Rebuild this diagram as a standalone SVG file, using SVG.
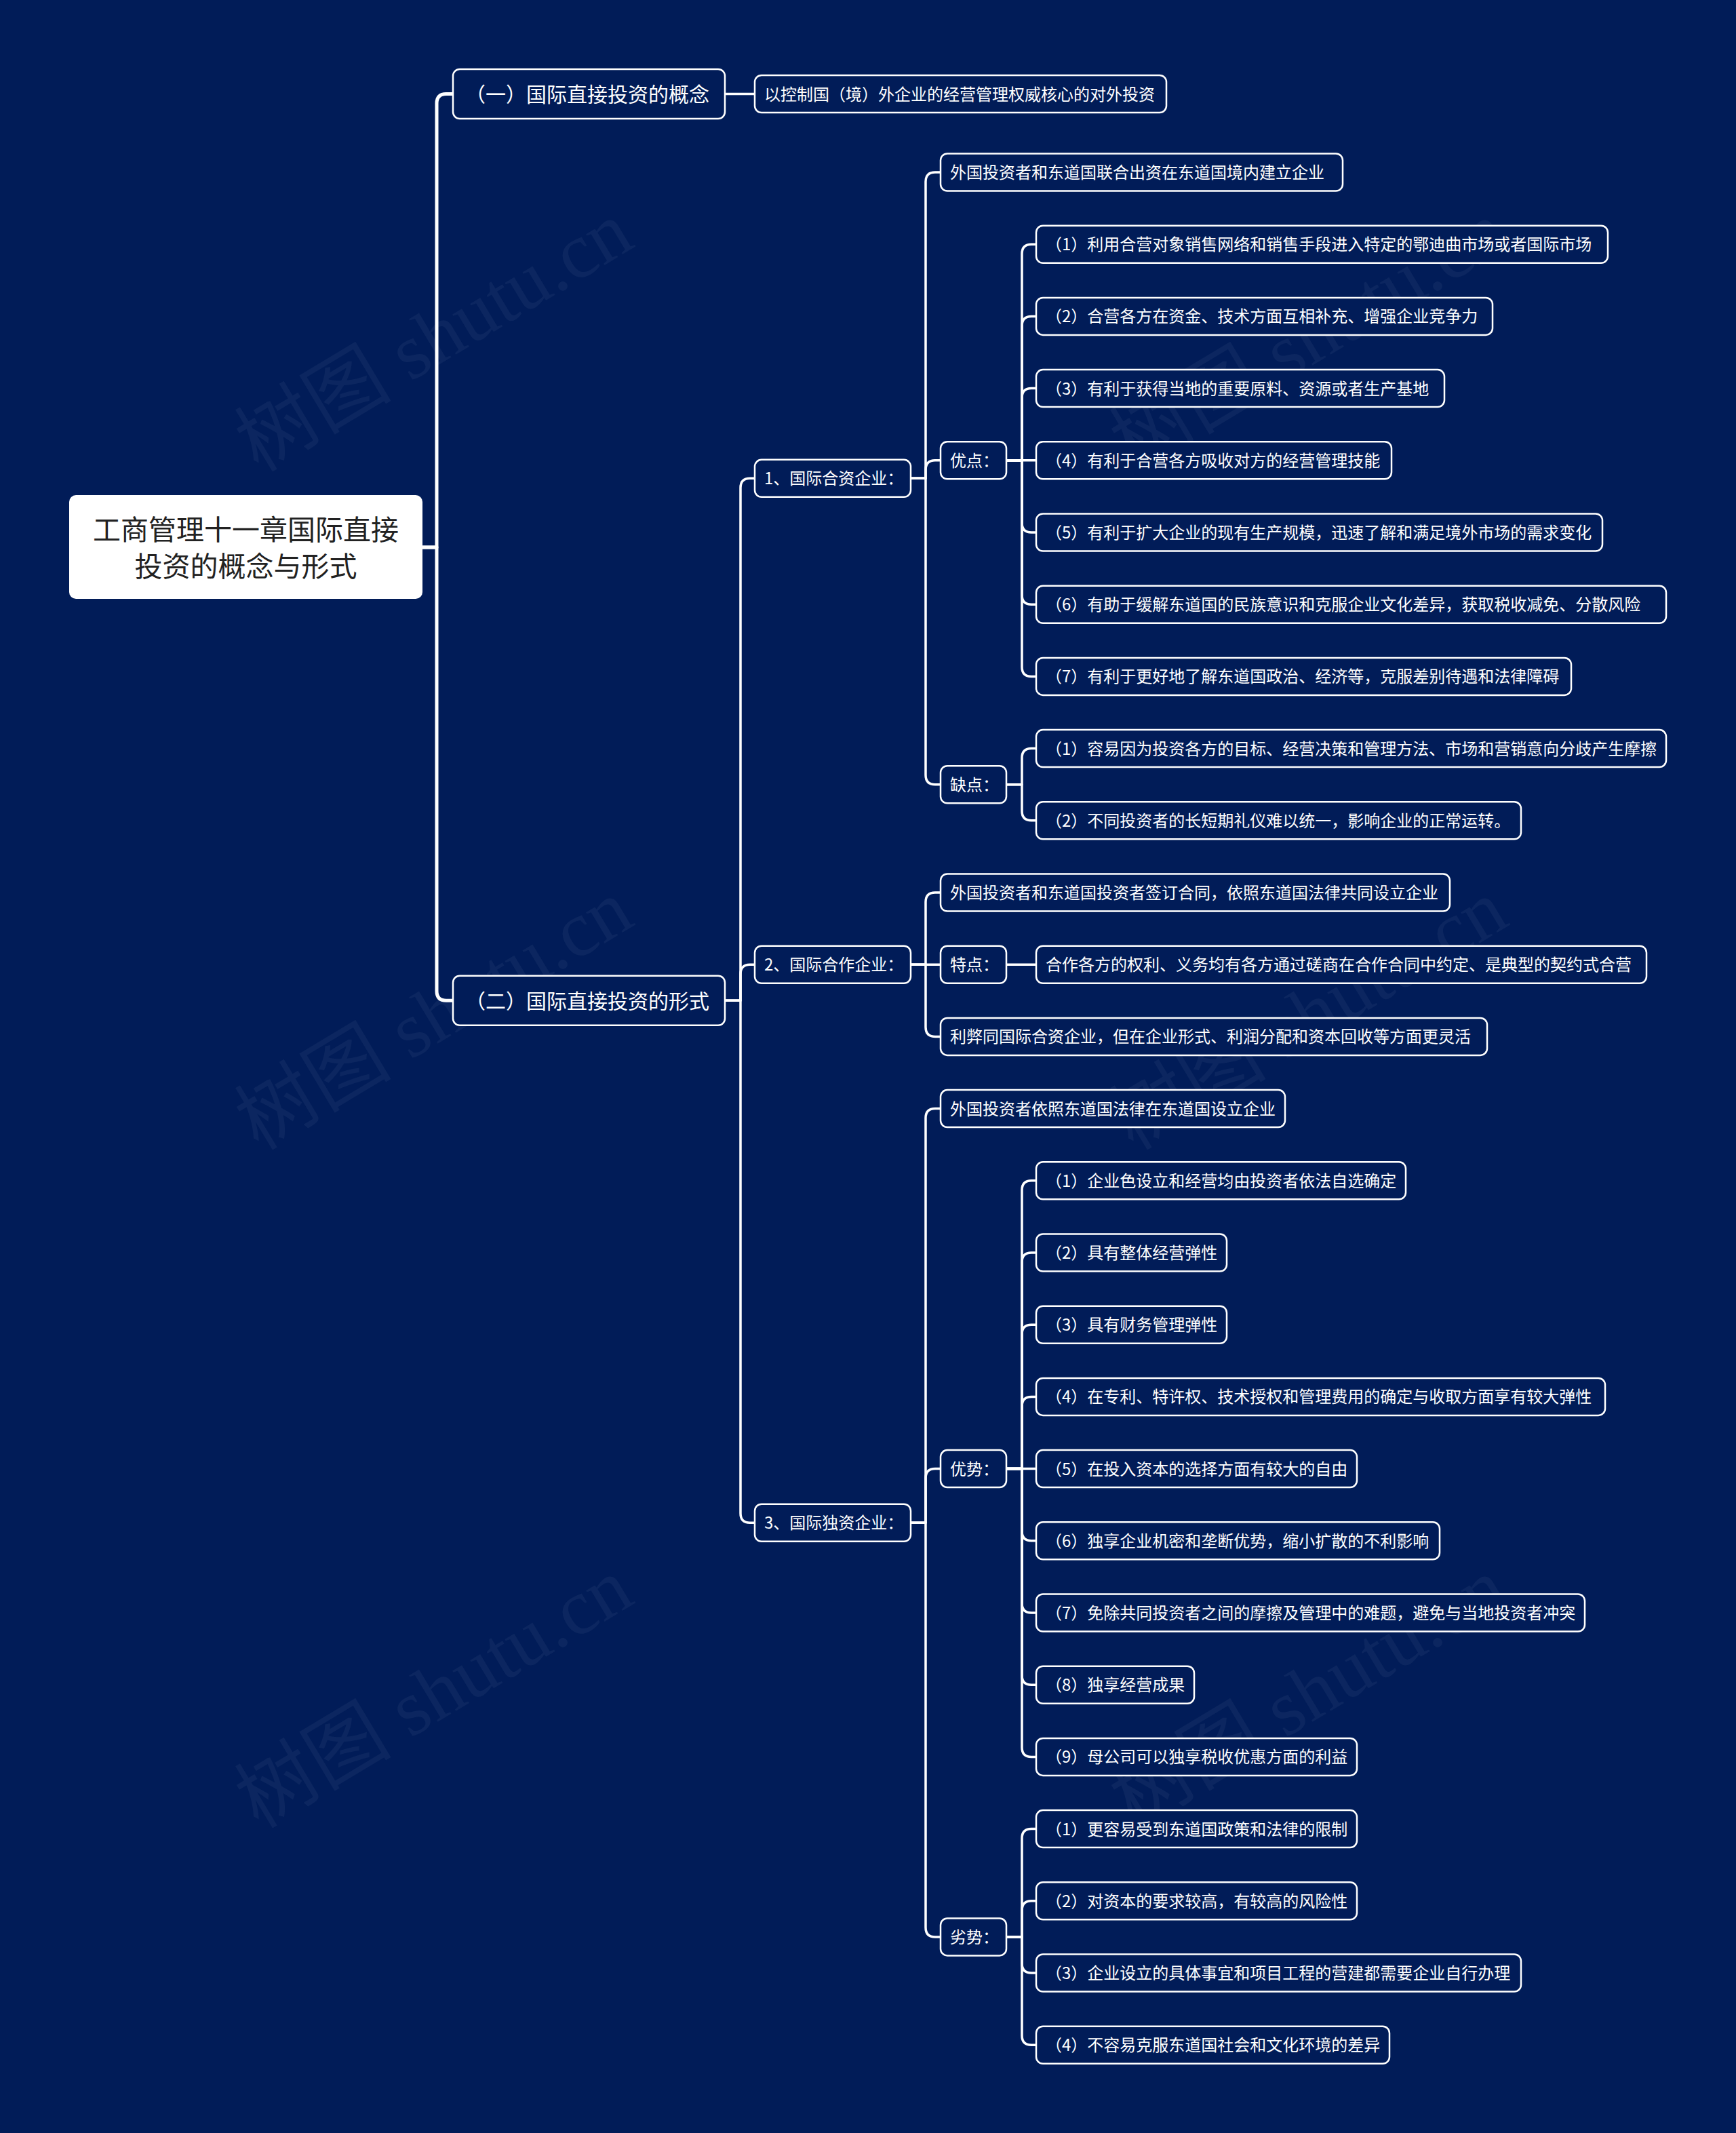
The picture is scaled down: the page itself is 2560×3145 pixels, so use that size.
<svg xmlns="http://www.w3.org/2000/svg" width="2560" height="3145" viewBox="0 0 2560 3145">
<style>
.bg{fill:#011c58}
.wm{font-family:'Liberation Serif','Noto Sans CJK SC',serif;font-size:116px;fill:#9aa6c4;fill-opacity:0.08}
.n rect{fill:#011c58;stroke:#ffffff;stroke-width:2.5}
.n text{font-family:'Noto Sans CJK SC','Liberation Sans',sans-serif;font-size:24px;fill:#ffffff}
.l1 text{font-size:30px}
.root rect{fill:#ffffff;stroke:none}
.root text{font-family:'Noto Sans CJK SC','Liberation Sans',sans-serif;font-size:41px;fill:#222222}
.c path{fill:none;stroke:#ffffff;stroke-width:3.5;stroke-linecap:round;stroke-linejoin:round}
.c path.c0{stroke-width:5}
</style>
<rect class="bg" x="0" y="0" width="2560" height="3145"/>
<g id="watermarks">
<text class="wm" transform="translate(660 530) rotate(-31)" text-anchor="middle">树图 shutu.cn</text>
<text class="wm" transform="translate(660 1530) rotate(-31)" text-anchor="middle">树图 shutu.cn</text>
<text class="wm" transform="translate(660 2530) rotate(-31)" text-anchor="middle">树图 shutu.cn</text>
<text class="wm" transform="translate(1950 530) rotate(-31)" text-anchor="middle">树图 shutu.cn</text>
<text class="wm" transform="translate(1950 1530) rotate(-31)" text-anchor="middle">树图 shutu.cn</text>
<text class="wm" transform="translate(1950 2530) rotate(-31)" text-anchor="middle">树图 shutu.cn</text>
</g>
<g id="connectors" class="c">
<path class="c0" d="M623,807 H644 V152.5 Q644,138.5 658,138.5 H668"/>
<path class="c0" d="M623,807 H644 V1461.3 Q644,1475.3 658,1475.3 H668"/>
<path d="M1069,138.5 H1113"/>
<path d="M1069,1475.3 H1092 V719.35 Q1092,705.35 1106,705.35 H1113"/>
<path d="M1069,1475.3 H1092 V1436.2 Q1092,1422.2 1106,1422.2 H1113"/>
<path d="M1069,1475.3 H1092 V2231.25 Q1092,2245.25 1106,2245.25 H1113"/>
<path d="M1343,705.35 H1365 V268 Q1365,254 1379,254 H1387"/>
<path d="M1343,705.35 H1365 V692.8 Q1365,678.8 1379,678.8 H1387"/>
<path d="M1343,705.35 H1365 V1142.7 Q1365,1156.7 1379,1156.7 H1387"/>
<path d="M1484,678.8 H1507 V374.2 Q1507,360.2 1521,360.2 H1528"/>
<path d="M1484,678.8 H1507 V480.4 Q1507,466.4 1521,466.4 H1528"/>
<path d="M1484,678.8 H1507 V586.6 Q1507,572.6 1521,572.6 H1528"/>
<path d="M1484,678.8 H1528"/>
<path d="M1484,678.8 H1507 V771 Q1507,785 1521,785 H1528"/>
<path d="M1484,678.8 H1507 V877.2 Q1507,891.2 1521,891.2 H1528"/>
<path d="M1484,678.8 H1507 V983.4 Q1507,997.4 1521,997.4 H1528"/>
<path d="M1484,1156.7 H1507 V1117.6 Q1507,1103.6 1521,1103.6 H1528"/>
<path d="M1484,1156.7 H1507 V1195.8 Q1507,1209.8 1521,1209.8 H1528"/>
<path d="M1343,1422.2 H1365 V1330 Q1365,1316 1379,1316 H1387"/>
<path d="M1343,1422.2 H1387"/>
<path d="M1343,1422.2 H1365 V1514.4 Q1365,1528.4 1379,1528.4 H1387"/>
<path d="M1484,1422.2 H1528"/>
<path d="M1343,2245.25 H1365 V1648.6 Q1365,1634.6 1379,1634.6 H1387"/>
<path d="M1343,2245.25 H1365 V2179.6 Q1365,2165.6 1379,2165.6 H1387"/>
<path d="M1343,2245.25 H1365 V2841.9 Q1365,2855.9 1379,2855.9 H1387"/>
<path d="M1484,2165.6 H1507 V1754.8 Q1507,1740.8 1521,1740.8 H1528"/>
<path d="M1484,2165.6 H1507 V1861 Q1507,1847 1521,1847 H1528"/>
<path d="M1484,2165.6 H1507 V1967.2 Q1507,1953.2 1521,1953.2 H1528"/>
<path d="M1484,2165.6 H1507 V2073.4 Q1507,2059.4 1521,2059.4 H1528"/>
<path d="M1484,2165.6 H1528"/>
<path d="M1484,2165.6 H1507 V2257.8 Q1507,2271.8 1521,2271.8 H1528"/>
<path d="M1484,2165.6 H1507 V2364 Q1507,2378 1521,2378 H1528"/>
<path d="M1484,2165.6 H1507 V2470.2 Q1507,2484.2 1521,2484.2 H1528"/>
<path d="M1484,2165.6 H1507 V2576.4 Q1507,2590.4 1521,2590.4 H1528"/>
<path d="M1484,2855.9 H1507 V2710.6 Q1507,2696.6 1521,2696.6 H1528"/>
<path d="M1484,2855.9 H1507 V2816.8 Q1507,2802.8 1521,2802.8 H1528"/>
<path d="M1484,2855.9 H1507 V2895 Q1507,2909 1521,2909 H1528"/>
<path d="M1484,2855.9 H1507 V3001.2 Q1507,3015.2 1521,3015.2 H1528"/>
</g>
<g id="root" class="root">
<rect x="102" y="730" width="521" height="153" rx="10"/>
<text x="362.5" y="796" text-anchor="middle">工商管理十一章国际直接</text>
<text x="362.5" y="850" text-anchor="middle">投资的概念与形式</text>
</g>
<g id="n-a" class="n l1"><rect x="668" y="102" width="401" height="73" rx="10"/><text x="686" y="150">（一）国际直接投资的概念</text></g>
<g id="n-b" class="n l1"><rect x="668" y="1438.8" width="401" height="73" rx="10"/><text x="686" y="1486.7">（二）国际直接投资的形式</text></g>
<g id="n-a1" class="n"><rect x="1113" y="111" width="607" height="55" rx="10"/><text x="1127" y="147.5">以控制国（境）外企业的经营管理权威核心的对外投资</text></g>
<g id="n-b1" class="n"><rect x="1113" y="677.85" width="230" height="55" rx="10"/><text x="1127" y="714.4">1、国际合资企业：</text></g>
<g id="n-b2" class="n"><rect x="1113" y="1394.7" width="230" height="55" rx="10"/><text x="1127" y="1431.2">2、国际合作企业：</text></g>
<g id="n-b3" class="n"><rect x="1113" y="2217.75" width="230" height="55" rx="10"/><text x="1127" y="2254.3">3、国际独资企业：</text></g>
<g id="n-b1a" class="n"><rect x="1387" y="226.5" width="593" height="55" rx="10"/><text x="1401" y="263">外国投资者和东道国联合出资在东道国境内建立企业</text></g>
<g id="n-b1-pro" class="n"><rect x="1387" y="651.3" width="97" height="55" rx="10"/><text x="1401" y="687.8">优点：</text></g>
<g id="n-b1-con" class="n"><rect x="1387" y="1129.2" width="97" height="55" rx="10"/><text x="1401" y="1165.7">缺点：</text></g>
<g id="n-b2a" class="n"><rect x="1387" y="1288.5" width="751" height="55" rx="10"/><text x="1401" y="1325">外国投资者和东道国投资者签订合同，依照东道国法律共同设立企业</text></g>
<g id="n-b2-feat" class="n"><rect x="1387" y="1394.7" width="97" height="55" rx="10"/><text x="1401" y="1431.2">特点：</text></g>
<g id="n-b2c" class="n"><rect x="1387" y="1500.9" width="806" height="55" rx="10"/><text x="1401" y="1537.4">利弊同国际合资企业，但在企业形式、利润分配和资本回收等方面更灵活</text></g>
<g id="n-b3a" class="n"><rect x="1387" y="1607.1" width="508" height="55" rx="10"/><text x="1401" y="1643.6">外国投资者依照东道国法律在东道国设立企业</text></g>
<g id="n-b3-adv" class="n"><rect x="1387" y="2138.1" width="97" height="55" rx="10"/><text x="1401" y="2174.6">优势：</text></g>
<g id="n-b3-dis" class="n"><rect x="1387" y="2828.4" width="97" height="55" rx="10"/><text x="1401" y="2864.9">劣势：</text></g>
<g id="n-p1" class="n"><rect x="1528" y="332.7" width="843" height="55" rx="10"/><text x="1542" y="369.2">（1）利用合营对象销售网络和销售手段进入特定的鄂迪曲市场或者国际市场</text></g>
<g id="n-p2" class="n"><rect x="1528" y="438.9" width="673" height="55" rx="10"/><text x="1542" y="475.4">（2）合营各方在资金、技术方面互相补充、增强企业竞争力</text></g>
<g id="n-p3" class="n"><rect x="1528" y="545.1" width="602" height="55" rx="10"/><text x="1542" y="581.6">（3）有利于获得当地的重要原料、资源或者生产基地</text></g>
<g id="n-p4" class="n"><rect x="1528" y="651.3" width="524" height="55" rx="10"/><text x="1542" y="687.8">（4）有利于合营各方吸收对方的经营管理技能</text></g>
<g id="n-p5" class="n"><rect x="1528" y="757.5" width="835" height="55" rx="10"/><text x="1542" y="794">（5）有利于扩大企业的现有生产规模，迅速了解和满足境外市场的需求变化</text></g>
<g id="n-p6" class="n"><rect x="1528" y="863.7" width="929" height="55" rx="10"/><text x="1542" y="900.2">（6）有助于缓解东道国的民族意识和克服企业文化差异，获取税收减免、分散风险</text></g>
<g id="n-p7" class="n"><rect x="1528" y="969.9" width="789" height="55" rx="10"/><text x="1542" y="1006.4">（7）有利于更好地了解东道国政治、经济等，克服差别待遇和法律障碍</text></g>
<g id="n-c1" class="n"><rect x="1528" y="1076.1" width="929" height="55" rx="10"/><text x="1542" y="1112.6">（1）容易因为投资各方的目标、经营决策和管理方法、市场和营销意向分歧产生摩擦</text></g>
<g id="n-c2" class="n"><rect x="1528" y="1182.3" width="715" height="55" rx="10"/><text x="1542" y="1218.8">（2）不同投资者的长短期礼仪难以统一，影响企业的正常运转。</text></g>
<g id="n-f1" class="n"><rect x="1528" y="1394.7" width="900" height="55" rx="10"/><text x="1542" y="1431.2">合作各方的权利、义务均有各方通过磋商在合作合同中约定、是典型的契约式合营</text></g>
<g id="n-a-1" class="n"><rect x="1528" y="1713.3" width="545" height="55" rx="10"/><text x="1542" y="1749.8">（1）企业色设立和经营均由投资者依法自选确定</text></g>
<g id="n-a-2" class="n"><rect x="1528" y="1819.5" width="281" height="55" rx="10"/><text x="1542" y="1856">（2）具有整体经营弹性</text></g>
<g id="n-a-3" class="n"><rect x="1528" y="1925.7" width="281" height="55" rx="10"/><text x="1542" y="1962.2">（3）具有财务管理弹性</text></g>
<g id="n-a-4" class="n"><rect x="1528" y="2031.9" width="839" height="55" rx="10"/><text x="1542" y="2068.4">（4）在专利、特许权、技术授权和管理费用的确定与收取方面享有较大弹性</text></g>
<g id="n-a-5" class="n"><rect x="1528" y="2138.1" width="473" height="55" rx="10"/><text x="1542" y="2174.6">（5）在投入资本的选择方面有较大的自由</text></g>
<g id="n-a-6" class="n"><rect x="1528" y="2244.3" width="595" height="55" rx="10"/><text x="1542" y="2280.8">（6）独享企业机密和垄断优势，缩小扩散的不利影响</text></g>
<g id="n-a-7" class="n"><rect x="1528" y="2350.5" width="809" height="55" rx="10"/><text x="1542" y="2387">（7）免除共同投资者之间的摩擦及管理中的难题，避免与当地投资者冲突</text></g>
<g id="n-a-8" class="n"><rect x="1528" y="2456.7" width="233" height="55" rx="10"/><text x="1542" y="2493.2">（8）独享经营成果</text></g>
<g id="n-a-9" class="n"><rect x="1528" y="2562.9" width="473" height="55" rx="10"/><text x="1542" y="2599.4">（9）母公司可以独享税收优惠方面的利益</text></g>
<g id="n-d-1" class="n"><rect x="1528" y="2669.1" width="473" height="55" rx="10"/><text x="1542" y="2705.6">（1）更容易受到东道国政策和法律的限制</text></g>
<g id="n-d-2" class="n"><rect x="1528" y="2775.3" width="473" height="55" rx="10"/><text x="1542" y="2811.8">（2）对资本的要求较高，有较高的风险性</text></g>
<g id="n-d-3" class="n"><rect x="1528" y="2881.5" width="715" height="55" rx="10"/><text x="1542" y="2918">（3）企业设立的具体事宜和项目工程的营建都需要企业自行办理</text></g>
<g id="n-d-4" class="n"><rect x="1528" y="2987.7" width="521" height="55" rx="10"/><text x="1542" y="3024.2">（4）不容易克服东道国社会和文化环境的差异</text></g>
</svg>
